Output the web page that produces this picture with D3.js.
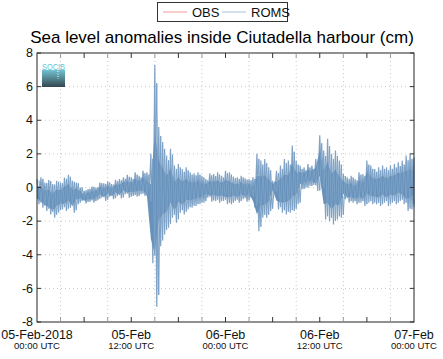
<!DOCTYPE html>
<html><head><meta charset="utf-8">
<script src="https://cdn.jsdelivr.net/npm/d3@7"></script>
<style>body{margin:0;background:#fff}svg{display:block;font-family:"Liberation Sans",Arial,sans-serif}</style>
</head><body><svg id="c" width="443" height="359"></svg>
<script>
// half-hourly envelope of sea level anomaly (cm), hours since 05-Feb-2018 00:00 UTC
const hours = d3.range(0, 48.01, 0.5);
const hiVals = [0.5,0.6,0.3,0.45,0.2,0.4,0.3,0.6,0.75,0.4,0.3,0.0,-0.2,-0.1,0.05,0.0,0.3,0.25,0.35,0.2,0.45,0.5,0.6,0.75,0.6,0.9,0.7,1.0,0.9,2.0,7.3,3.6,2.7,1.9,2.3,1.3,1.4,1.1,1.2,0.9,0.85,0.9,0.7,0.5,0.85,0.8,0.9,0.7,1.0,0.9,0.65,0.6,0.7,0.55,0.5,0.6,2.0,1.6,1.7,1.2,0.4,1.0,1.3,1.7,1.6,2.5,1.6,1.3,1.2,1.4,1.3,1.7,3.1,2.2,2.9,2.0,2.2,1.6,0.8,0.6,0.7,0.5,0.9,0.8,1.6,1.3,1.1,1.2,1.3,1.2,1.3,1.4,1.5,1.6,1.9,2.0,1.8];
const loVals = [-1.0,-1.2,-1.4,-1.6,-1.8,-1.5,-1.3,-1.4,-1.2,-1.5,-1.0,-0.8,-0.95,-0.85,-0.9,-0.75,-0.6,-0.8,-0.55,-0.7,-0.5,-0.65,-0.4,-0.6,-0.5,-0.55,-0.4,-0.5,-0.9,-4.5,-7.1,-3.5,-2.8,-2.4,-1.8,-2.1,-1.5,-1.6,-1.3,-1.2,-1.1,-1.0,-0.9,-0.6,-0.85,-0.8,-0.9,-0.8,-1.0,-1.0,-0.8,-0.9,-0.7,-0.85,-0.6,-1.2,-2.6,-1.8,-1.8,-1.4,-0.3,-1.3,-1.5,-1.6,-1.5,-1.4,-1.0,-0.1,0.0,0.1,0.15,-0.2,0.0,-1.9,-2.0,-2.2,-1.9,-1.8,-0.7,-0.9,-0.9,-1.0,-0.9,-1.1,-0.9,-1.0,-1.0,-1.1,-0.9,-1.1,-0.9,-1.0,-0.8,-1.0,-1.4,-1.3,-1.0];
const yTicks = [-8,-6,-4,-2,0,2,4,6,8];
const labelHours = [0,12,24,36,48];
const labelTop = ["05-Feb-2018","05-Feb","06-Feb","06-Feb","07-Feb"];
const labelBottom = ["00:00 UTC","12:00 UTC","00:00 UTC","12:00 UTC","00:00 UTC"];
const legendNames = ["OBS","ROMS"];
const title = "Sea level anomalies inside Ciutadella harbour (cm)";

const svg = d3.select("#c");
const t0 = Date.UTC(2018,1,5);
const H = 3600e3;
const x = d3.scaleUtc().domain([new Date(t0), new Date(t0+48*H)]).range([37,414]);
const y = d3.scaleLinear().domain([-8,8]).range([322,53]);
const X = h => x(new Date(t0+h*H));

// grid
const g = svg.append("g");
g.selectAll("line.gy").data(yTicks.filter(v=>v>-8&&v<8)).join("line")
  .attr("x1",37).attr("x2",414).attr("y1",d=>y(d)).attr("y2",d=>y(d))
  .attr("stroke","#c8c8c8").attr("stroke-dasharray","1,3");
const gridH = d3.range(3,48,6);
g.selectAll("line.gx").data(gridH).join("line")
  .attr("x1",d=>X(d)).attr("x2",d=>X(d)).attr("y1",53).attr("y2",322)
  .attr("stroke","#c8c8c8").attr("stroke-dasharray","1,3");

// data: envelope band plus zigzag between envelope values
const band = hours.map((h,i)=>({h, hi:hiVals[i], lo:loVals[i]}));
const inner = band.map(d=>({h:d.h, hi:d.lo+(d.hi-d.lo)*0.72, lo:d.lo+(d.hi-d.lo)*0.22}));
svg.append("path").datum(inner)
  .attr("d", d3.area().x(d=>X(d.h)).y0(d=>y(d.lo)).y1(d=>y(d.hi)))
  .attr("fill","#6892bb");
const pts = [];
hours.forEach((h,i)=>{ pts.push([h,hiVals[i]]); if(i<hours.length-1) pts.push([h+0.25,loVals[i]]); else pts.push([h,loVals[i]]); });
svg.append("path").datum(pts)
  .attr("d", d3.line().x(d=>X(d[0])).y(d=>y(d[1])))
  .attr("fill","none").attr("stroke","#6892bb").attr("stroke-width",1.2).attr("stroke-opacity",0.85);
const pts2 = [];
hours.forEach((h,i)=>{ pts2.push([h+0.25,hiVals[i]*0.85]); pts2.push([h+0.5,loVals[i]*0.9]); });
svg.append("path").datum(pts2.filter(d=>d[0]<=48))
  .attr("d", d3.line().x(d=>X(d[0])).y(d=>y(d[1])))
  .attr("fill","none").attr("stroke","#7ba1c6").attr("stroke-width",1);

// SOCIB logo
const defs = svg.append("defs");
const lg = defs.append("linearGradient").attr("id","lg").attr("x1",0).attr("x2",0).attr("y1",0).attr("y2",1);
lg.append("stop").attr("offset","0").attr("stop-color","#72c2d2");
lg.append("stop").attr("offset","1").attr("stop-color","#34464f");
svg.append("rect").attr("x",42).attr("y",70).attr("width",23).attr("height",17).attr("fill","url(#lg)");
svg.append("text").attr("x",53.5).attr("y",70).attr("text-anchor","middle").attr("font-size",9)
  .attr("fill","#5cc6d8").attr("textLength",23).attr("lengthAdjust","spacingAndGlyphs").text("SOCIB");
svg.append("line").attr("x1",58).attr("x2",58).attr("y1",71).attr("y2",79).attr("stroke","#fff").attr("stroke-dasharray","1,1.5");

// frame and ticks
svg.append("rect").attr("x",37).attr("y",53).attr("width",377).attr("height",269)
  .attr("fill","none").attr("stroke","#222").attr("stroke-width",1);
const tickH = d3.range(3,48,3);
svg.selectAll("line.tb").data(tickH).join("line")
  .attr("x1",d=>X(d)).attr("x2",d=>X(d)).attr("y1",322).attr("y2",317).attr("stroke",d=>d%6?"#999":"#333");
svg.selectAll("line.tt").data(tickH).join("line")
  .attr("x1",d=>X(d)).attr("x2",d=>X(d)).attr("y1",53).attr("y2",58).attr("stroke",d=>d%6?"#999":"#333");
svg.selectAll("line.tl").data(yTicks).join("line")
  .attr("x1",37).attr("x2",41).attr("y1",d=>y(d)).attr("y2",d=>y(d)).attr("stroke","#333");
svg.selectAll("line.tr").data(yTicks).join("line")
  .attr("x1",410).attr("x2",414).attr("y1",d=>y(d)).attr("y2",d=>y(d)).attr("stroke","#333");

// y labels
svg.selectAll("text.yl").data(yTicks).join("text")
  .attr("x",33).attr("y",d=>y(d)+4.2).attr("text-anchor","end").attr("font-size",12.5).attr("fill","#111")
  .text(d=>d);
// x labels
labelHours.forEach((h,i)=>{
  svg.append("text").attr("x",X(h)).attr("y",338.5).attr("text-anchor","middle").attr("font-size",12.5).attr("fill","#111").text(labelTop[i]);
  svg.append("text").attr("x",X(h)).attr("y",349).attr("text-anchor","middle").attr("font-size",9.5).attr("fill","#111").text(labelBottom[i]);
});

// title
svg.append("text").attr("x",222).attr("y",43).attr("text-anchor","middle").attr("font-size",17).attr("fill","#000").text(title);

// legend
svg.append("rect").attr("x",157.5).attr("y",2.5).attr("width",130).attr("height",19).attr("fill","#fff").attr("stroke","#333");
const legColors = ["#f29a9a","#a6c2de"];
const legX = [163,222];
legendNames.forEach((n,i)=>{
  svg.append("line").attr("x1",legX[i]).attr("x2",legX[i]+24).attr("y1",12).attr("y2",12).attr("stroke",legColors[i]);
  svg.append("text").attr("x",legX[i]+29).attr("y",17).attr("font-size",13).attr("fill","#111").text(n);
});
</script></body></html>
